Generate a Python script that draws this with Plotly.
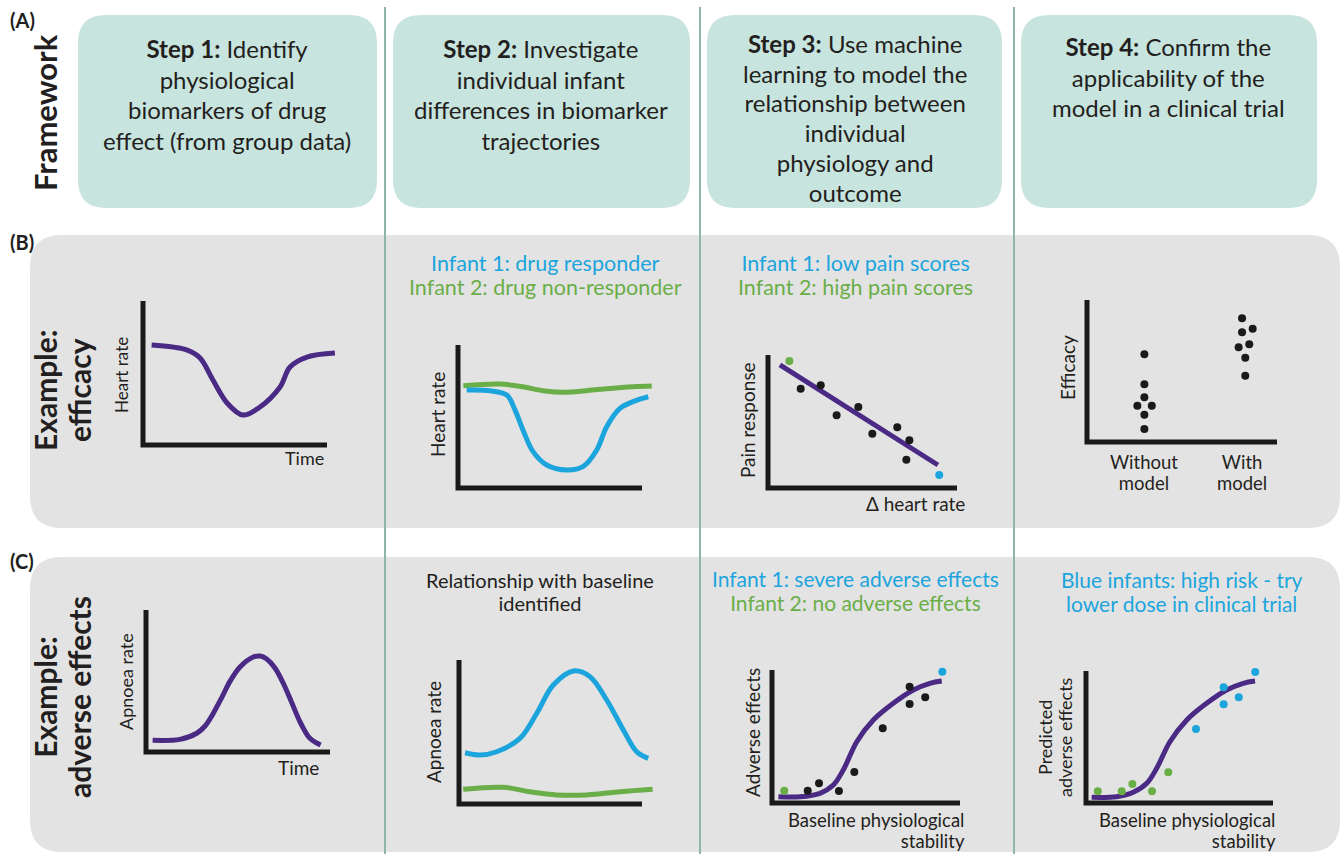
import plotly.graph_objects as go

W, H = 1341, 854
PURPLE = '#4a2a84'
BLUE = '#1ca5dd'
GREEN = '#6aae48'
INK = '#231f20'
TEAL = '#c8e4de'
PANEL = '#e3e3e3'
SEP = '#8fb5ad'
FONT = 'Lato'

# ---------------- text content ----------------
step_texts = [
    ["<b>Step 1:</b> Identify", "physiological", "biomarkers of drug", "effect (from group data)"],
    ["<b>Step 2:</b> Investigate", "individual infant", "differences in biomarker", "trajectories"],
    ["<b>Step 3:</b> Use machine", "learning to model the", "relationship between", "individual",
     "physiology and", "outcome"],
    ["<b>Step 4:</b> Confirm the", "applicability of the", "model in a clinical trial"],
]

# ---------------- data (schematic units 0-10) ----------------
# B1 group heart rate over time
b1_time = [0.47, 2.37, 3.10, 3.80, 4.57, 5.43, 6.36, 7.45, 7.99, 8.91, 10.43]
b1_hr = [6.94, 6.60, 6.04, 4.51, 2.92, 2.08, 2.64, 4.03, 5.42, 6.11, 6.39]
# B2 individual heart rates
b2_green_t = [0.29, 2.28, 3.53, 4.62, 5.92, 7.72, 9.51, 10.53]
b2_green_hr = [7.15, 7.27, 7.08, 6.80, 6.69, 6.90, 7.08, 7.13]
b2_blue_t = [0.47, 1.74, 2.65, 3.10, 3.53, 4.08, 4.82, 5.91, 6.79, 7.54, 8.08, 8.80, 9.51, 10.34]
b2_blue_hr = [6.85, 6.80, 6.50, 5.45, 4.06, 2.54, 1.61, 1.26, 1.49, 2.66, 4.29, 5.57, 6.04, 6.38]
# B3 pain response vs delta heart rate
b3_dhr = [1.73, 2.79, 3.63, 4.78, 5.52, 6.84, 7.48, 7.32]
b3_pain = [7.47, 7.72, 5.47, 6.09, 4.08, 4.56, 3.59, 2.13]
b3_fit_x = [0.63, 8.99]
b3_fit_y = [9.25, 1.73]
b3_green = (1.13, 9.55)
b3_blue = (9.06, 0.98)
# B4 efficacy
b4_without_x = [3.02, 3.02, 3.02, 2.65, 3.41, 3.02, 3.02]
b4_without_y = [6.18, 4.06, 3.15, 2.56, 2.56, 1.92, 0.92]
b4_with_x = [8.16, 8.16, 8.72, 7.98, 8.54, 8.33, 8.33]
b4_with_y = [8.71, 7.73, 7.98, 6.67, 6.88, 5.94, 4.67]
# C1 group apnoea rate
c1_time = [0.36, 1.85, 2.76, 3.21, 3.66, 4.13, 4.57, 5.11, 5.83, 6.20, 6.56, 7.01, 7.46, 7.93, 8.37, 8.91, 9.49]
c1_apnoea = [0.82, 0.89, 1.32, 1.83, 2.73, 3.87, 4.99, 5.99, 6.69, 6.76, 6.55, 5.92, 4.84, 3.45, 2.13, 0.96, 0.49]
# C2 individual apnoea rates
c2_blue_t = [0.33, 1.15, 2.06, 3.33, 4.25, 5.15, 6.25, 7.16, 8.07, 8.98, 9.71, 10.34]
c2_blue_a = [3.56, 3.40, 3.63, 4.56, 6.30, 8.26, 9.24, 8.84, 7.22, 5.14, 3.63, 3.17]
c2_green_t = [0.23, 2.42, 3.88, 5.34, 6.98, 8.80, 10.58]
c2_green_a = [1.02, 1.16, 0.85, 0.63, 0.63, 0.85, 1.02]
# C3 adverse effects vs baseline stability
c3_curve_x = [0.34, 1.49, 2.55, 3.26, 3.79, 4.51, 5.39, 6.45, 7.52, 8.40, 9.03]
c3_curve_y = [0.47, 0.47, 0.73, 1.35, 2.48, 4.61, 6.24, 7.50, 8.50, 9.00, 9.17]
c3_pts_x = [1.90, 2.50, 3.56, 4.38, 5.89, 7.32, 7.32, 8.15]
c3_pts_y = [0.92, 1.48, 0.90, 2.33, 5.62, 8.74, 7.44, 7.95]
c3_green = (0.65, 0.92)
c3_blue = (9.06, 9.87)
# C4 predicted adverse effects
c4_curve_x = [0.30, 1.64, 2.53, 3.25, 3.78, 4.49, 5.39, 6.45, 7.52, 8.41, 9.04]
c4_curve_y = [0.43, 0.48, 0.81, 1.49, 2.63, 4.64, 6.29, 7.55, 8.56, 9.07, 9.24]
c4_green_x = [0.63, 1.91, 2.48, 3.53, 4.40]
c4_green_y = [0.89, 0.89, 1.44, 0.89, 2.33]
c4_blue_x = [5.88, 7.36, 7.36, 8.17, 9.05]
c4_blue_y = [5.61, 8.77, 7.48, 8.01, 9.92]

fig = go.Figure()
fig.update_layout(
    width=W, height=H, margin=dict(l=0, r=0, t=0, b=0),
    paper_bgcolor='white', plot_bgcolor='rgba(0,0,0,0)', showlegend=False,
    xaxis=dict(domain=[0, 1], range=[0, W], visible=False, fixedrange=True),
    yaxis=dict(domain=[0, 1], range=[H, 0], visible=False, fixedrange=True),
    font=dict(family=FONT, color=INK),
)
fig.add_trace(go.Scatter(x=[0], y=[0], mode='markers', marker=dict(opacity=0),
                         hoverinfo='skip', xaxis='x', yaxis='y'))

shapes = []


def rrect(x0, y0, x1, y1, r, color):
    p = (f"M {x0 + r},{y0} L {x1 - r},{y0} Q {x1},{y0} {x1},{y0 + r} "
         f"L {x1},{y1 - r} Q {x1},{y1} {x1 - r},{y1} L {x0 + r},{y1} "
         f"Q {x0},{y1} {x0},{y1 - r} L {x0},{y0 + r} Q {x0},{y0} {x0 + r},{y0} Z")
    shapes.append(dict(type='path', path=p, xref='x', yref='y', fillcolor=color,
                       line=dict(width=0), layer='below'))


rrect(30, 235, 1340, 528, 32, PANEL)
rrect(30, 557, 1340, 852, 32, PANEL)
for (x0, x1) in [(78, 377), (393, 690), (707, 1002), (1021, 1317)]:
    rrect(x0, 15, x1, 208, 28, TEAL)
for xs in [385, 700, 1014]:
    shapes.append(dict(type='line', x0=xs, x1=xs, y0=7, y1=854, xref='x', yref='y',
                       line=dict(color=SEP, width=2), layer='below'))
fig.update_layout(shapes=shapes)

ann = []


def mtxt(x, y, lines, glyph, spacing, colors=None, angle=0, xanchor='center', align='center'):
    """Multi-line text: glyph = font size of letters, spacing = line pitch in px."""
    base = spacing / 1.3
    if colors is None:
        colors = [INK] * len(lines)
    s = '<br>'.join(f'<span style="font-size:{glyph}px;color:{c}">{ln}</span>'
                    for ln, c in zip(lines, colors))
    ann.append(dict(x=x, y=y, xref='x', yref='y', text=s, showarrow=False,
                    font=dict(family=FONT, size=base, color=colors[0]), align=align,
                    textangle=angle, xanchor=xanchor, yanchor='middle'))


def txt(x, y, s, size, color=INK, angle=0, xanchor='center'):
    ann.append(dict(x=x, y=y, xref='x', yref='y', text=s, showarrow=False,
                    font=dict(family=FONT, size=size, color=color),
                    textangle=angle, xanchor=xanchor, yanchor='middle'))


# framework box texts
box_cx = [227, 541, 855, 1168]
box_cy = [94, 94, 118, 77]
box_sp = [30.7, 30.7, 29.7, 30.5]
for cx, cy, sp, lines in zip(box_cx, box_cy, box_sp, step_texts):
    mtxt(cx, cy, lines, 24, sp)

# panel letters and row labels
txt(22, 20, "<b>(A)</b>", 20)
txt(22, 242, "<b>(B)</b>", 20)
txt(22, 561, "<b>(C)</b>", 20)
txt(45, 113, "<b>Framework</b>", 31, angle=-90)
mtxt(62, 390, ["<b>Example:</b>", "<b>efficacy</b>"], 30, 34, angle=-90)
mtxt(62, 697, ["<b>Example:</b>", "<b>adverse effects</b>"], 30, 34, angle=-90)

# row titles
mtxt(545, 275, ["Infant 1: drug responder", "Infant 2: drug non-responder"], 21.5, 24, [BLUE, GREEN])
mtxt(855, 275, ["Infant 1: low pain scores", "Infant 2: high pain scores"], 21.5, 24, [BLUE, GREEN])
mtxt(540, 591, ["Relationship with baseline", "identified"], 20, 22.5)
mtxt(855, 590, ["Infant 1: severe adverse effects", "Infant 2: no adverse effects"], 21, 23.5,
     [BLUE, GREEN])
mtxt(1182, 591, ["Blue infants: high risk - try", "lower dose in clinical trial"], 21, 23.5,
     [BLUE, BLUE])

# axis labels
txt(121, 375, "Heart rate", 17, angle=-90)
txt(304, 458, "Time", 18)
txt(437, 415, "Heart rate", 19, angle=-90)
txt(747, 420, "Pain response", 19, angle=-90)
txt(915, 503, "Δ heart rate", 19)
txt(1067, 368, "Efficacy", 19, angle=-90)
mtxt(1144, 472, ["Without", "model"], 18.5, 21)
mtxt(1242, 472, ["With", "model"], 18.5, 21)
txt(126, 682, "Apnoea rate", 18, angle=-90)
txt(298, 767, "Time", 19)
txt(433, 732, "Apnoea rate", 19, angle=-90)
txt(752, 733, "Adverse effects", 19, angle=-90)
mtxt(967, 830, ["Baseline physiological", "stability"], 18.5, 21, xanchor='right', align='right')
mtxt(1055, 737, ["Predicted", "adverse effects"], 18, 20, angle=-90)
mtxt(1278, 830, ["Baseline physiological", "stability"], 18.5, 21, xanchor='right', align='right')
fig.update_layout(annotations=ann)

# mini plot frames: origin px (ox, oy), x-axis end px, y-axis top px
frames = {
    2: (143, 445, 327, 301),
    3: (458, 488, 642, 345),
    4: (768, 488, 957, 355),
    5: (1087, 442, 1277, 300),
    6: (146, 752, 330, 610),
    7: (459, 804, 642, 660),
    8: (772, 803, 960, 670),
    9: (1086, 803, 1273, 671),
}
XR = (-1.5, 11.5)
YR = (-1.5, 11.5)
for i, (ox, oy, xe, yt) in frames.items():
    sx = (xe - ox) / 10.0
    sy = (oy - yt) / 10.0
    l = ox + XR[0] * sx
    r = ox + XR[1] * sx
    b = oy - YR[0] * sy
    t = oy - YR[1] * sy
    fig.layout[f'xaxis{i}'] = dict(domain=[l / W, r / W], range=list(XR), visible=False,
                                   fixedrange=True, anchor=f'y{i}')
    fig.layout[f'yaxis{i}'] = dict(domain=[1 - b / H, 1 - t / H], range=list(YR), visible=False,
                                   fixedrange=True, anchor=f'x{i}')
    fig.add_trace(go.Scatter(x=[0, 0, 10], y=[10, 0, 0], mode='lines',
                             line=dict(color='#1a1a1a', width=5), hoverinfo='skip',
                             xaxis=f'x{i}', yaxis=f'y{i}'))


def line(i, x, y, color):
    fig.add_trace(go.Scatter(x=x, y=y, mode='lines', line=dict(color=color, width=5, shape='spline'),
                             hoverinfo='skip', xaxis=f'x{i}', yaxis=f'y{i}'))


def dots(i, x, y, color, size=8):
    fig.add_trace(go.Scatter(x=x, y=y, mode='markers', marker=dict(color=color, size=size),
                             hoverinfo='skip', xaxis=f'x{i}', yaxis=f'y{i}', cliponaxis=False))


line(2, b1_time, b1_hr, PURPLE)
line(3, b2_green_t, b2_green_hr, GREEN)
line(3, b2_blue_t, b2_blue_hr, BLUE)
fig.add_trace(go.Scatter(x=b3_fit_x, y=b3_fit_y, mode='lines', line=dict(color=PURPLE, width=5),
                         hoverinfo='skip', xaxis='x4', yaxis='y4'))
dots(4, b3_dhr, b3_pain, '#1a1a1a')
dots(4, [b3_green[0]], [b3_green[1]], GREEN)
dots(4, [b3_blue[0]], [b3_blue[1]], BLUE)
dots(5, b4_without_x, b4_without_y, '#1a1a1a')
dots(5, b4_with_x, b4_with_y, '#1a1a1a')
line(6, c1_time, c1_apnoea, PURPLE)
line(7, c2_blue_t, c2_blue_a, BLUE)
line(7, c2_green_t, c2_green_a, GREEN)
line(8, c3_curve_x, c3_curve_y, PURPLE)
dots(8, c3_pts_x, c3_pts_y, '#1a1a1a')
dots(8, [c3_green[0]], [c3_green[1]], GREEN)
dots(8, [c3_blue[0]], [c3_blue[1]], BLUE)
line(9, c4_curve_x, c4_curve_y, PURPLE)
dots(9, c4_green_x, c4_green_y, GREEN)
dots(9, c4_blue_x, c4_blue_y, BLUE)

fig.write_html("out.html", config={'displayModeBar': False, 'staticPlot': True},
               post_script="document.body.style.margin='0';document.body.style.overflow='hidden';")
